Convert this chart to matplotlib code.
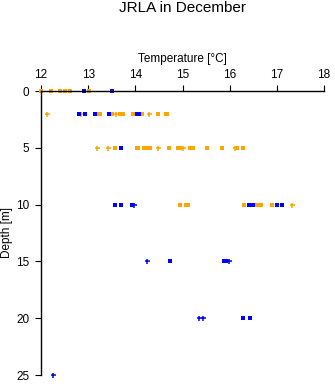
import matplotlib
matplotlib.use("Agg")
import matplotlib.pyplot as plt

plt.rcParams['font.family'] = ['Liberation Sans', 'DejaVu Sans']

# Orange series (square markers)
orange_sq_depth = [0, 0, 0, 0, 0, 0,
                   2, 2, 2, 2, 2, 2, 2, 2, 2, 2,
                   5, 5, 5, 5, 5, 5, 5, 5, 5, 5, 5, 5, 5, 5, 5,
                   10, 10, 10, 10, 10, 10, 10, 10]
orange_sq_temp = [12.00, 12.21, 12.41, 12.50, 12.61, 13.02,
                  13.20, 13.25, 13.50, 13.68, 13.74, 13.94, 14.15, 14.47, 14.67, 14.64,
                  13.57, 14.03, 14.06, 14.19, 14.25, 14.31, 14.71, 14.91, 14.94, 15.15, 15.22,
                  15.52, 15.83, 16.15, 16.28,
                  14.95, 15.08, 15.11, 16.30, 16.56, 16.62, 16.66, 16.89]
# Orange series (plus markers)
orange_pl_depth = [2, 2, 2, 2, 5, 5, 5, 5, 5, 10]
orange_pl_temp = [12.13, 12.85, 13.58, 14.28, 13.19, 13.42, 14.48, 15.00, 16.12, 17.33]

# Blue series (square markers)
blue_sq_depth = [0, 0, 2, 2, 2, 2, 2, 2, 5, 10, 10, 10, 10, 10, 10, 10, 10,
                 15, 15, 15, 20, 20]
blue_sq_temp = [12.91, 13.50, 12.80, 12.93, 13.14, 13.44, 14.04, 14.08, 13.70,
                13.57, 13.70, 13.93, 16.41, 16.46, 16.50, 17.00, 17.10,
                14.73, 15.89, 15.93, 16.28, 16.43]
# Blue series (plus markers)
blue_pl_depth = [10, 15, 15, 20, 20, 25]
blue_pl_temp = [13.97, 14.25, 15.98, 15.35, 15.44, 12.26]

x_ticks = [12, 13, 14, 15, 16, 17, 18]
y_ticks = [0, 5, 10, 15, 20, 25]

ORANGE = '#FFA500'
BLUE = '#0000FF'

fig = plt.figure(figsize=(3.35, 3.84), dpi=100)
ax = fig.add_axes([41/335, 1-375/384, (324-41)/335, (375-91)/384])

ax.plot(orange_sq_temp, orange_sq_depth, linestyle='none', marker='s',
        markersize=2.3, color=ORANGE, markeredgewidth=0, clip_on=False)
ax.plot(orange_pl_temp, orange_pl_depth, linestyle='none', marker='+',
        markersize=3.6, color=ORANGE, markeredgewidth=1.1, clip_on=False)
ax.plot(blue_sq_temp, blue_sq_depth, linestyle='none', marker='s',
        markersize=2.3, color=BLUE, markeredgewidth=0, clip_on=False)
ax.plot(blue_pl_temp, blue_pl_depth, linestyle='none', marker='+',
        markersize=3.6, color=BLUE, markeredgewidth=1.1, clip_on=False)

ax.set_xlim(12, 18)
ax.set_ylim(25, 0)
ax.set_xticks(x_ticks)
ax.set_yticks(y_ticks)
ax.xaxis.tick_top()
ax.spines['right'].set_visible(False)
ax.spines['bottom'].set_visible(False)
ax.spines['top'].set_linewidth(1.0)
ax.spines['left'].set_linewidth(1.0)
ax.tick_params(axis='both', direction='out', length=4.3, width=0.8, labelsize=8.5, pad=3.0)
ax.tick_params(axis='y', pad=4.0)

fig.text(182.5/335, 1-8/384, 'JRLA in December', ha='center', va='center', fontsize=11)
fig.text(182.5/335, 1-59/384, 'Temperature [°C]', ha='center', va='center', fontsize=8.5)
fig.text(7.5/335, 1-233/384, 'Depth [m]', ha='center', va='center', rotation=90, fontsize=8.5)

fig.savefig('out.png', dpi=100)
